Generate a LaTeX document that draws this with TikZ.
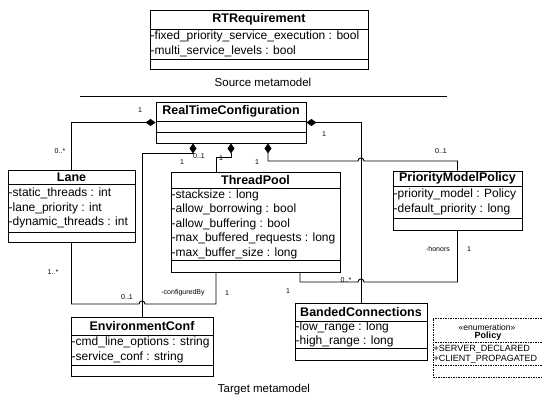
\documentclass[tikz,border=0pt]{standalone}
\usepackage{fontspec}
\setmainfont{Liberation Sans}
\usetikzlibrary{arrows.meta}

\tikzset{
  classbox/.style={draw, line width=0.9pt, inner sep=0pt},
  enumbox/.style={draw, line width=0.5pt, dash pattern=on 1.5pt off 1pt, inner sep=0pt},
  classtitle/.style={font=\bfseries\fontsize{12.5}{14}\selectfont, inner sep=0pt},
  attrs/.style={font=\fontsize{12}{14.5}\selectfont, align=left, anchor=west, inner xsep=0.5pt, inner ysep=0pt},
  mult/.style={font=\fontsize{7}{8}\selectfont, inner sep=0pt},
  caption/.style={font=\fontsize{11.5}{13}\selectfont, inner sep=0pt},
  assoc/.style={line width=0.9pt},
  comp/.style={assoc, arrows={Diamond[length=10pt,width=7pt]-}},
}

\begin{document}
\begin{tikzpicture}[x=1pt, y=-1pt]
  \clip (0,0) rectangle (542,398);

  % Source metamodel
  \node[classbox, minimum width=218pt, minimum height=59pt] (rtreq) at (259,39.5) {};
  \draw[line width=0.9pt] (rtreq.west |- 0,29) -- (rtreq.east |- 0,29);
  \draw[line width=0.9pt] (rtreq.west |- 0,59) -- (rtreq.east |- 0,59);
  \node[classtitle] (rtreq-title) at (259,19.5) {RTRequirement};
  \node[attrs] (rtreq-attrs) at (150,44) {-fixed\_priority\_service\_execution : bool\\-multi\_service\_levels : bool};
  \node[caption] (source) at (263,82) {Source metamodel};
  \draw[line width=0.9pt] (80,96) -- (447,96);

  % RealTimeConfiguration
  \node[classbox, minimum width=150pt, minimum height=41pt] (rtc) at (231,122.5) {};
  \draw[line width=0.9pt] (rtc.west |- 0,121) -- (rtc.east |- 0,121);
  \draw[line width=0.9pt] (rtc.west |- 0,132) -- (rtc.east |- 0,132);
  \node[classtitle] (rtc-title) at (231,111.5) {RealTimeConfiguration};

  % Lane
  \node[classbox, minimum width=127pt, minimum height=72pt] (lane) at (71.5,206) {};
  \draw[line width=0.9pt] (lane.west |- 0,184) -- (lane.east |- 0,184);
  \draw[line width=0.9pt] (lane.west |- 0,232) -- (lane.east |- 0,232);
  \node[classtitle] (lane-title) at (71.5,177) {Lane};
  \node[attrs] (lane-attrs) at (8,208) {-static\_threads : int\\-lane\_priority : int\\-dynamic\_threads : int};

  % ThreadPool
  \node[classbox, minimum width=169pt, minimum height=100pt] (tp) at (255.5,222) {};
  \draw[line width=0.9pt] (tp.west |- 0,188) -- (tp.east |- 0,188);
  \draw[line width=0.9pt] (tp.west |- 0,260) -- (tp.east |- 0,260);
  \node[classtitle] (tp-title) at (255.5,180) {ThreadPool};
  \node[attrs] (tp-attrs) at (171,224) {-stacksize : long\\-allow\_borrowing : bool\\-allow\_buffering : bool\\-max\_buffered\_requests : long\\-max\_buffer\_size : long};

  % PriorityModelPolicy
  \node[classbox, minimum width=129pt, minimum height=59pt] (pmp) at (457.5,200.5) {};
  \draw[line width=0.9pt] (pmp.west |- 0,186) -- (pmp.east |- 0,186);
  \draw[line width=0.9pt] (pmp.west |- 0,218) -- (pmp.east |- 0,218);
  \node[classtitle] (pmp-title) at (457.5,178.5) {PriorityModelPolicy};
  \node[attrs] (pmp-attrs) at (393,202) {-priority\_model : Policy\\-default\_priority : long};

  % EnvironmentConf
  \node[classbox, minimum width=142pt, minimum height=59pt] (env) at (142,346.5) {};
  \draw[line width=0.9pt] (env.west |- 0,335) -- (env.east |- 0,335);
  \draw[line width=0.9pt] (env.west |- 0,365) -- (env.east |- 0,365);
  \node[classtitle] (env-title) at (142,326) {EnvironmentConf};
  \node[attrs] (env-attrs) at (71,350) {-cmd\_line\_options : string\\-service\_conf : string};

  % BandedConnections
  \node[classbox, minimum width=132pt, minimum height=57pt] (bc) at (361,331.5) {};
  \draw[line width=0.9pt] (bc.west |- 0,321) -- (bc.east |- 0,321);
  \draw[line width=0.9pt] (bc.west |- 0,348) -- (bc.east |- 0,348);
  \node[classtitle] (bc-title) at (361,312) {BandedConnections};
  \node[attrs] (bc-attrs) at (295,334.5) {-low\_range : long\\-high\_range : long};

  % Policy enumeration
  \node[enumbox, minimum width=111pt, minimum height=59pt] (policy) at (488.5,347.5) {};
  \draw[enumbox] (policy.west |- 0,342) -- (policy.east |- 0,342);
  \draw[enumbox] (policy.west |- 0,365) -- (policy.east |- 0,365);
  \node[font=\fontsize{8.5}{9}\selectfont, inner sep=0pt] (policy-stereo) at (487,327) {«enumeration»};
  \node[font=\bfseries\fontsize{9}{10}\selectfont, inner sep=0pt] (policy-title) at (488,336) {Policy};
  \node[attrs, font=\fontsize{9}{10.5}\selectfont] (policy-lits) at (433,354.5) {+SERVER\_DECLARED\\+CLIENT\_PROPAGATED};

  \node[caption] (target) at (264,390) {Target metamodel};

  % attachment points and line jumps
  \coordinate (rtcA) at ([xshift=-38pt]rtc.south);
  \coordinate (rtcC) at ([xshift=37pt]rtc.south);
  \coordinate (tpTop) at ([xshift=-39.5pt]tp.north);
  \coordinate (tpL) at ([xshift=-39.5pt]tp.south);
  \coordinate (tpR) at ([xshift=44.5pt]tp.south);
  \coordinate (hopA) at (env.north |- 0,304);
  \coordinate (hopB) at (bc.north |- 0,282);
  \coordinate (hopC) at (bc.north |- 0,161);

  % compositions
  \draw[comp] (rtc.west) -| (lane.north);
  \draw[comp] (rtc.east) -| (bc.north);
  \draw[comp] (rtcA) -- ++(0,10) -| (env.north);
  \draw[comp] (rtc.south) -- ++(0,14) -| (tpTop);
  \draw[comp] (rtcC) |- ([xshift=-3pt]hopC) .. controls ([xshift=-3pt,yshift=4pt]hopC) and ([xshift=3pt,yshift=4pt]hopC) .. ([xshift=3pt]hopC) -| (pmp.north);

  % associations
  \draw[assoc] (lane.south) |- ([xshift=-3pt]hopA) .. controls ([xshift=-3pt,yshift=4pt]hopA) and ([xshift=3pt,yshift=4pt]hopA) .. ([xshift=3pt]hopA) -| (tpL);
  \draw[assoc] (tpR) |- ([xshift=-3pt]hopB) .. controls ([xshift=-3pt,yshift=4pt]hopB) and ([xshift=3pt,yshift=4pt]hopB) .. ([xshift=3pt]hopB) -| (pmp.south);

  % multiplicities and roles
  \node[mult] (m-rtc-lane) at (140,110) {1};
  \node[mult] (m-lane-rtc) at (60,151) {0..*};
  \node[mult] (m-rtc-env) at (182,162) {1};
  \node[mult] (m-env-rtc) at (199,156) {0..1};
  \node[mult] (m-rtc-tp) at (221,158) {1};
  \node[mult] (m-rtc-pmp) at (257,162) {1};
  \node[mult] (m-pmp-rtc) at (441,151) {0..1};
  \node[mult] (m-rtc-bc) at (324,134) {1};
  \node[mult] (m-lane-tp) at (53,272) {1..*};
  \node[mult] (m-tp-lane) at (127,297) {0..1};
  \node[mult] (r-configured) at (183,293) {-configuredBy};
  \node[mult] (m-configured) at (227,293) {1};
  \node[mult] (r-honors) at (438,249) {-honors};
  \node[mult] (m-honors) at (469,249) {1};
  \node[mult] (m-bc-tp) at (346,280) {0..*};
  \node[mult] (m-tp-bc) at (288,291) {1};
\end{tikzpicture}
\end{document}
